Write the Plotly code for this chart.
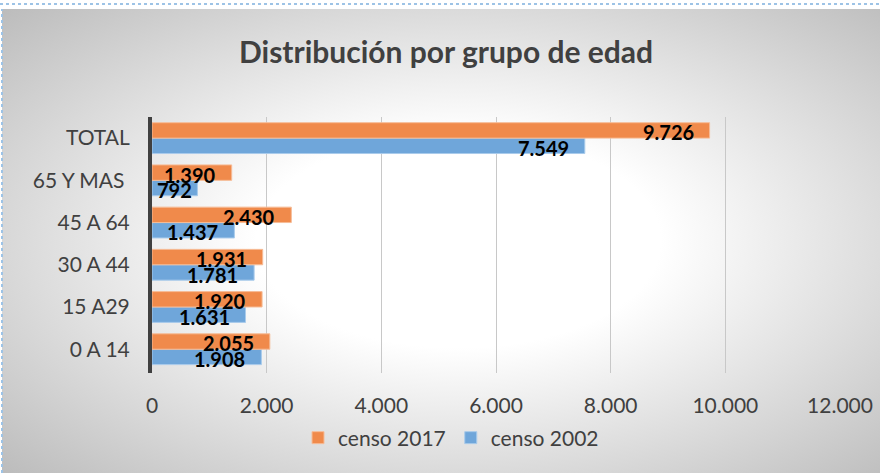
import base64
import plotly.graph_objects as go

# data
grupos = ["0 A 14", "15 A29", "30 A 44", "45 A 64", "65 Y MAS ", "TOTAL"]
censo_2017 = [2055, 1920, 1931, 2430, 1390, 9726]
censo_2002 = [1908, 1631, 1781, 1437, 792, 7549]
x_ticks = [0, 2000, 4000, 6000, 8000, 10000, 12000]
x_tick_labels = ["0", "2.000", "4.000", "6.000", "8.000", "10.000", "12.000"]

W, H = 880, 473
ML, MR, MT, MB = 152, 40, 117, 100
pw, ph = W - ML - MR, H - MT - MB
X_MAX = 12000

FONT = "Lato, Liberation Sans, Arial, sans-serif"


def fmt(v):
    return f"{v:,}".replace(",", ".")


# radial grey gradient like the Excel chart area
svg = (
    "<svg xmlns='http://www.w3.org/2000/svg' width='880' height='464' preserveAspectRatio='none'>"
    "<defs><radialGradient id='g' cx='52%' cy='50%' r='72%'>"
    "<stop offset='0' stop-color='#ffffff'/><stop offset='0.32' stop-color='#ffffff'/>"
    "<stop offset='1' stop-color='#bcbcbc'/></radialGradient></defs>"
    "<rect width='100%' height='100%' fill='url(#g)'/></svg>"
)
bg_src = "data:image/svg+xml;base64," + base64.b64encode(svg.encode()).decode()

label_font = dict(family=FONT, size=20, color="black", weight="bold")

fig = go.Figure()
fig.add_trace(go.Bar(
    y=grupos, x=censo_2002, name="censo 2002", orientation="h",
    marker=dict(color="#6FA6DA", line=dict(color="#A9CBEB", width=1)),
    hoverinfo="x+name",
))
fig.add_trace(go.Bar(
    y=grupos, x=censo_2017, name="censo 2017", orientation="h",
    marker=dict(color="#F08A4B", line=dict(color="#F6BC97", width=1)),
    hoverinfo="x+name",
))


def add_label(value, cat, yshift):
    txt = fmt(value)
    # like Excel, a label that would not fit sits against the axis instead
    if value * pw / X_MAX - 14 < len(txt) * 11:
        fig.add_annotation(x=0, y=cat, text=f"<b>{txt}</b>", showarrow=False,
                           xanchor="left", yanchor="middle", xshift=3, yshift=yshift,
                           font=label_font)
    else:
        fig.add_annotation(x=value, y=cat, text=f"<b>{txt}</b>", showarrow=False,
                           xanchor="right", yanchor="middle", xshift=-14, yshift=yshift,
                           font=label_font)


# data labels: inside end of each bar, a little in from the tip
bar_off = ph / len(grupos) * (1 - 0.27) / 4
for g, v17, v02 in zip(grupos, censo_2017, censo_2002):
    add_label(v17, g, bar_off - 2)
    add_label(v02, g, -bar_off - 2)

fig.add_layout_image(dict(
    source=bg_src, xref="paper", yref="paper",
    x=-(ML - 2) / pw, y=(ph + MT - 9) / ph,
    sizex=(W - 2) / pw, sizey=(H - 9) / ph,
    sizing="stretch", layer="below", xanchor="left", yanchor="top",
))

# dotted selection border at top and left
fig.add_shape(type="line", xref="paper", yref="paper",
              x0=-ML / pw, x1=(pw + MR) / pw, y0=(ph + MT - 4) / ph, y1=(ph + MT - 4) / ph,
              line=dict(color="#9DC3E6", width=2, dash="dot"))
fig.add_shape(type="line", xref="paper", yref="paper",
              x0=-(ML - 2) / pw, x1=-(ML - 2) / pw, y0=-MB / ph, y1=(ph + MT - 9) / ph,
              line=dict(color="#9DC3E6", width=2, dash="dot"))

fig.update_layout(
    width=W, height=H,
    margin=dict(l=ML, r=MR, t=MT, b=MB, autoexpand=False),
    paper_bgcolor="white", plot_bgcolor="rgba(0,0,0,0)",
    barmode="group", bargap=0.27, bargroupgap=0.0,
    title=dict(text="<b>Distribución por grupo de edad</b>", x=446 / W, xref="container",
               y=1 - 52 / H, yanchor="middle",
               font=dict(family=FONT, size=30, color="#404040")),
    legend=dict(orientation="h", traceorder="reversed", xref="paper",
                x=(451 - ML) / pw, xanchor="center", yref="paper",
                y=(H - MB - 438) / ph, yanchor="middle",
                font=dict(family=FONT, size=21, color="#404040"),
                bgcolor="rgba(0,0,0,0)", itemwidth=30),
    xaxis=dict(range=[0, X_MAX], tickvals=x_ticks, ticktext=x_tick_labels,
               showgrid=True, gridcolor="#c8c8c8", gridwidth=1, zeroline=False,
               showline=False, ticks="", ticklabelstandoff=18, automargin=False,
               tickfont=dict(family=FONT, size=21, color="#404040")),
    yaxis=dict(categoryorder="array", categoryarray=grupos, showgrid=False,
               showline=True, linecolor="#404040", linewidth=4, ticks="",
               ticklabelstandoff=14, automargin=False,
               tickfont=dict(family=FONT, size=21, color="#404040")),
    showlegend=True,
)

# the page's default body margin would push the chart off by 8px
fig.write_html("out.html", config={"displayModeBar": False},
               post_script="document.body.style.margin='0px';")
